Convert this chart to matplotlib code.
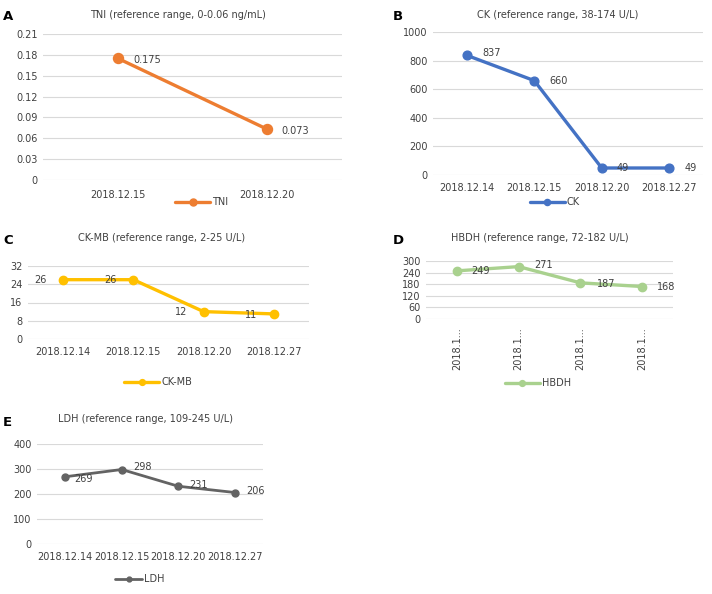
import numpy as np
import matplotlib
matplotlib.use("Agg")
from matplotlib import pyplot as plt

# data
tni_dates = ["2018.12.15", "2018.12.20"]
tni_vals = [0.175, 0.073]

ck_dates = ["2018.12.14", "2018.12.15", "2018.12.20", "2018.12.27"]
ck_vals = [837, 660, 49, 49]

ckmb_dates = ["2018.12.14", "2018.12.15", "2018.12.20", "2018.12.27"]
ckmb_vals = [26, 26, 12, 11]

hbdh_dates = ["2018.12.14", "2018.12.15", "2018.12.20", "2018.12.27"]
hbdh_vals = [249, 271, 187, 168]

ldh_dates = ["2018.12.14", "2018.12.15", "2018.12.20", "2018.12.27"]
ldh_vals = [269, 298, 231, 206]

W, H = 712, 594
FS = 7
plt.rcParams['font.family'] = ['DejaVu Sans']
fig = plt.figure(figsize=(W / 100, H / 100), dpi=100)
TXT = "#404040"


def px_axes(l, t, r, b):
    return fig.add_axes([l / W, 1 - b / H, (r - l) / W, (b - t) / H])


def panel(rect, dates, vals, color, name, title, letter, ymax, ystep,
          fmt, labpos, title_xy, letter_xy, leg_xy, ms=6, lw=2.4,
          rotate=False, pad=6, hl=3.6):
    ax = px_axes(*rect)
    x = np.arange(len(dates)) + 0.5
    ax.plot(x, vals, color=color, lw=lw, marker='o', ms=ms, label=name,
            solid_capstyle='round')
    ax.set_xlim(0, len(dates))
    ax.set_ylim(0, ymax)
    ticks = np.arange(0, ymax + ystep / 2, ystep)
    ax.set_yticks(ticks)
    ax.set_yticklabels([fmt(t) for t in ticks])
    ax.set_xticks(x)
    if rotate:
        ax.set_xticklabels([d[:6] + "..." for d in dates], rotation=90)
    else:
        ax.set_xticklabels(dates)
    ax.tick_params(length=0, labelsize=FS, colors=TXT, pad=pad)
    ax.tick_params(axis='y', pad=4)
    for s in ax.spines.values():
        s.set_visible(False)
    ax.grid(axis='y', color='#d9d9d9', lw=0.8)
    ax.set_axisbelow(True)
    for xi, v, (dx, dy, ha) in zip(x, vals, labpos):
        ax.annotate(fmt(v), (xi, v), xytext=(dx, dy),
                    textcoords='offset points', ha=ha, va='center',
                    fontsize=FS, color=TXT)
    fig.text(title_xy[0] / W, 1 - title_xy[1] / H, title, ha='center',
             va='center', fontsize=FS, color=TXT)
    fig.text(letter_xy[0] / W, 1 - letter_xy[1] / H, letter, ha='left',
             va='center', fontsize=9.5, fontweight='bold', color='black')
    leg = ax.legend(loc='center', bbox_to_anchor=(leg_xy[0] / W, 1 - leg_xy[1] / H),
                    bbox_transform=fig.transFigure, frameon=False, fontsize=FS,
                    handlelength=hl, handletextpad=0.2, markerscale=0.7,
                    borderpad=0, borderaxespad=0)
    for t in leg.get_texts():
        t.set_color(TXT)
    return ax


def f_tni(v):
    if v == 0:
        return "0"
    if v in tni_vals:
        return "%.3f" % v
    return "%.2f" % v


def f_int(v):
    return "%d" % v


panel((43, 34, 342, 180), tni_dates, tni_vals, "#ed7d31", "TNI",
      "TNI (reference range, 0-0.06 ng/mL)", "A", 0.21, 0.03, f_tni,
      [(11, -1.5, 'left'), (10, -1, 'left')],
      (178, 15), (3, 17), (202, 202), ms=7.2, lw=2.4, pad=7)

panel((433, 32, 703, 175), ck_dates, ck_vals, "#4472c4", "CK",
      "CK (reference range, 38-174 U/L)", "B", 1000, 200, f_int,
      [(11, 1.5, 'left'), (11, 0, 'left'), (11, 0, 'left'), (11, 0, 'left')],
      (558, 15), (393, 17), (555, 202), ms=6.3, lw=2.4, pad=6)

panel((28, 266, 309, 339), ckmb_dates, ckmb_vals, "#ffc000", "CK-MB",
      "CK-MB (reference range, 2-25 U/L)", "C", 32, 8, f_int,
      [(-16.5, -0.5, 'center'), (-16.5, 0, 'center'), (-16.5, 0, 'center'),
       (-16.5, -1, 'center')],
      (162, 238), (3, 241), (158, 382), ms=6, lw=2.4, pad=6)

panel((426, 261, 673, 319), hbdh_dates, hbdh_vals, "#a9d18e", "HBDH",
      "HBDH (reference range, 72-182 U/L)", "D", 300, 60, f_int,
      [(10, 0, 'left'), (11.5, 1, 'left'), (12, -1, 'left'), (11, 0, 'left')],
      (540, 238), (393, 241), (538, 383), ms=6, lw=2.4, rotate=True, pad=6)

panel((37, 444, 263, 544), ldh_dates, ldh_vals, "#636363", "LDH",
      "LDH (reference range, 109-245 U/L)", "E", 400, 100, f_int,
      [(6.5, -1.5, 'left'), (8.5, 1.5, 'left'), (8, 1, 'left'), (8.5, 1, 'left')],
      (145, 419), (3, 422), (140, 579), ms=5, lw=2, pad=6, hl=2.8)

fig.savefig("out.png", dpi=100)
